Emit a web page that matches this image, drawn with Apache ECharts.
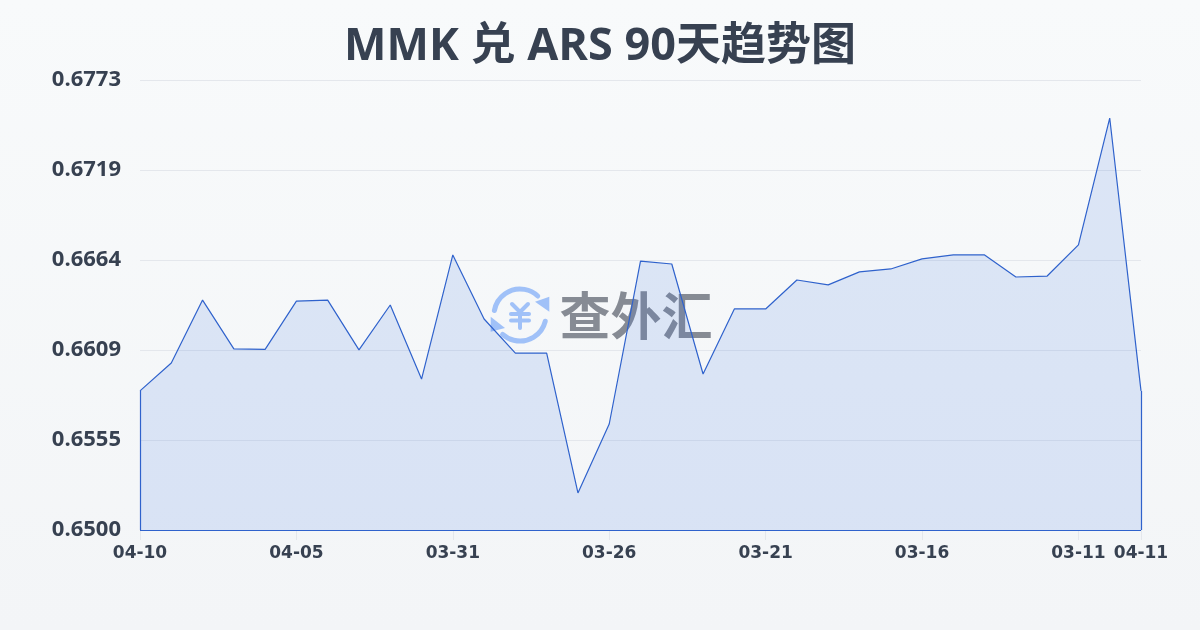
<!DOCTYPE html>
<html><head><meta charset="utf-8">
<style>html,body{margin:0;padding:0;background:#f6f8fa}#c{width:1200px;height:630px}</style>
<script src="https://cdn.jsdelivr.net/npm/echarts@6/dist/echarts.min.js"></script>
</head><body><div id="c"></div>
<script>
const titleText = 'MMK 兑 ARS 90天趋势图';
const categories = ['04-10','04-09','04-08','04-07','04-06','04-05','04-04','04-03','04-02','04-01','03-31','03-30','03-29','03-28','03-27','03-26','03-25','03-24','03-23','03-22','03-21','03-20','03-19','03-18','03-17','03-16','03-15','03-14','03-13','03-12','03-11','03-10','04-11'];
const values = [0.65845,0.66015,0.66397,0.66100,0.66097,0.66391,0.66397,0.66094,0.66367,0.65917,0.66671,0.66282,0.66075,0.66075,0.65225,0.65644,0.66634,0.66616,0.65948,0.66343,0.66343,0.66519,0.66489,0.66568,0.66586,0.66647,0.66671,0.66671,0.66537,0.66543,0.66732,0.67503,0.65845];
const yMin = 0.65, yMax = 0.67734, yStep = 0.005468;
const shownLabels = [0,5,10,15,20,25,30,32];
const lineColor = '#2f62cc', textColor = '#374151', gridColor = '#e4e7ec';
const iconColor = '#a0c1f8';
const cx = 520, cy = 315;
const lastIdx = categories.length - 1;
const chart = echarts.init(document.getElementById('c'), null, {renderer:'canvas'});
const iconLine = (points) => ({type:'polyline',shape:{points},style:{stroke:iconColor,fill:null,lineWidth:4,lineCap:'round',lineJoin:'round'}});
chart.setOption({
  animation:false,
  backgroundColor:{type:'linear',x:0,y:0,x2:0,y2:1,colorStops:[{offset:0,color:'#f8fafb'},{offset:1,color:'#f3f5f7'}]},
  title:{text:titleText,left:'center',top:20,textStyle:{fontFamily:'"Open Sans","Noto Sans CJK SC",sans-serif',fontSize:45,fontWeight:'bold',color:textColor}},
  grid:{left:140,right:59,top:80,bottom:100,containLabel:false},
  xAxis:{type:'category',boundaryGap:false,data:categories,
    axisLine:{show:false},
    axisTick:{show:true,length:10,lineStyle:{color:gridColor},interval:(i)=>shownLabels.includes(i)},
    axisLabel:{show:true,interval:(i)=>shownLabels.includes(i),margin:15,hideOverlap:false,fontFamily:'"DejaVu Sans",sans-serif',fontWeight:'bold',fontSize:17,color:textColor},
    splitLine:{show:false}},
  yAxis:{type:'value',min:yMin,max:yMax,interval:yStep,
    axisLine:{show:false},axisTick:{show:false},
    axisLabel:{margin:19,padding:[0,0,2,0],fontFamily:'"Open Sans",sans-serif',fontWeight:'bold',fontSize:22,color:textColor,formatter:v=>v.toFixed(4)},
    splitLine:{lineStyle:{color:gridColor,width:1}}},
  graphic:{elements:[
    {type:'group',silent:true,z:0,children:[
      {type:'arc',shape:{cx,cy,r:26,startAngle:190*Math.PI/180,endAngle:313*Math.PI/180},style:{stroke:iconColor,fill:null,lineWidth:5,lineCap:'round'}},
      {type:'arc',shape:{cx,cy,r:26,startAngle:14*Math.PI/180,endAngle:132*Math.PI/180},style:{stroke:iconColor,fill:null,lineWidth:5,lineCap:'round'}},
      {type:'polygon',shape:{points:[[549.3,296.7],[549.3,311.7],[535,301.7]]},style:{fill:iconColor}},
      {type:'polygon',shape:{points:[[490.7,316.7],[490.7,331.7],[505,328]]},style:{fill:iconColor}},
      iconLine([[512,304],[520,312],[528,304]]),
      iconLine([[511,314],[529,314]]),
      iconLine([[511,320.5],[529,320.5]]),
      iconLine([[520,312],[520,328]]),
      {type:'text',x:636,y:316,style:{text:'查外汇',align:'center',verticalAlign:'middle',font:'700 51px "Noto Sans CJK SC"',fill:'#868b94'}}
    ]}
  ]},
  series:[{type:'line',data:values,symbol:'none',smooth:false,z:3,
    lineStyle:{color:lineColor,width:1.2},
    areaStyle:{color:'rgba(59,110,225,0.2)',origin:'start'},
    markLine:{silent:true,symbol:'none',animation:false,label:{show:false},lineStyle:{color:lineColor,width:1.2,type:'solid'},
      data:[
        [{xAxis:0,yAxis:yMin},{xAxis:0,yAxis:values[0]}],
        [{xAxis:0,yAxis:yMin},{xAxis:lastIdx,yAxis:yMin}],
        [{xAxis:lastIdx,yAxis:yMin},{xAxis:lastIdx,yAxis:values[lastIdx]}]
      ]}
  }]
});
</script></body></html>
